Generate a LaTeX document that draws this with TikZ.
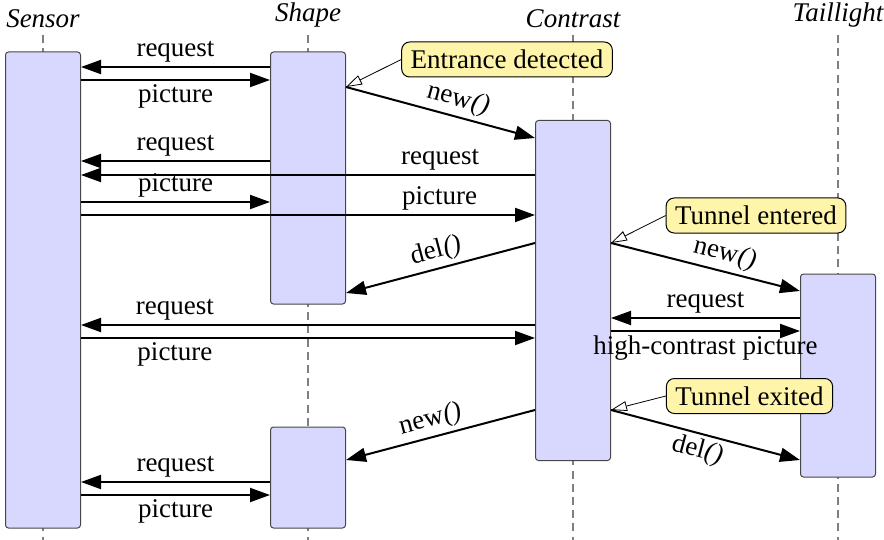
\documentclass[tikz,border=0pt]{standalone}
\usepackage{fontspec}
\setmainfont{Liberation Serif}
\newfontfamily\lserif{Liberation Serif}
\usetikzlibrary{arrows.meta,calc}
\definecolor{actfill}{RGB}{216,216,255}
\definecolor{actdraw}{RGB}{70,70,70}
\definecolor{notefill}{RGB}{255,245,170}
\definecolor{lifegray}{RGB}{128,128,128}
\begin{document}
\begin{tikzpicture}[x=0.5pt,y=-0.5pt,
  every node/.style={font=\lserif\fontsize{13.5pt}{16pt}\selectfont},
  threadname/.style={font=\lserif\fontsize{13.5pt}{16pt}\selectfont\itshape, anchor=south, inner sep=0pt},
  lifeline/.style={draw=lifegray, line width=0.7pt, dash pattern=on 4pt off 2.6pt},
  actbox/.style={draw=actdraw, fill=actfill, line width=0.5pt, rounded corners=1.5pt,
                 minimum width=37.5pt, inner sep=0pt},
  msg/.style={line width=1pt, -{Triangle[length=10pt,width=7pt]}},
  lbl/.style={inner sep=2pt},
  note/.style={draw=black, fill=notefill, line width=0.5pt, rounded corners=4pt,
               inner xsep=4.5pt, inner ysep=0pt, minimum height=17.5pt},
  pointer/.style={line width=0.4pt, -{Triangle[open,length=8pt,width=5pt,fill=white]}}
]
\useasboundingbox (0,0) rectangle (884,540);

% thread names
\node[threadname] (nSensor) at (43,28) {Sensor};
\node[threadname] (nShape) at (308,28) {Shape};
\node[threadname] (nContrast) at (573,28) {Contrast};
\node[threadname] (nTail) at (838,28) {Taillight};

% lifelines
\draw[lifeline] (nSensor.south |- 0,35) -- (nSensor.south |- 0,540);
\draw[lifeline] (nShape.south |- 0,35) -- (nShape.south |- 0,540);
\draw[lifeline] (nContrast.south |- 0,35) -- (nContrast.south |- 0,540);
\draw[lifeline] (nTail.south |- 0,35) -- (nTail.south |- 0,540);

% activation boxes
\node[actbox, minimum height=238pt] (sensor) at (43,290) {};
\node[actbox, minimum height=126pt] (shapeA) at (308,178) {};
\node[actbox, minimum height=50.5pt] (shapeB) at (308,477.5) {};
\node[actbox, minimum height=170pt] (contrast) at (573,290.5) {};
\node[actbox, minimum height=101.5pt] (tail) at (838,375.5) {};

% notes
\node[note] (entr) at (507,59.5) {Entrance detected};
\node[note] (tent) at (756,215.5) {Tunnel entered};
\node[note] (texit) at (749.5,396) {Tunnel exited};

% first group
\draw[msg] (shapeA.west |- 0,67) -- node[lbl,above] {request} (sensor.east |- 0,67);
\draw[msg] (sensor.east |- 0,80) -- node[lbl,below] {picture} (shapeA.west |- 0,80);
\draw[msg] (shapeA.east |- 0,87) -- node[lbl,above,sloped,pos=0.57] {new\kern0.3pt\textit{()}} (contrast.west |- 0,138);
\draw[pointer] (entr.west) -- (shapeA.east |- 0,87);

% second group
\draw[msg] (shapeA.west |- 0,161) -- node[lbl,above] {request} (sensor.east |- 0,161);
\draw[msg] (contrast.west |- 0,175) -- node[lbl,above,pos=0.209] {request} (sensor.east |- 0,175);
\draw[msg] (sensor.east |- 0,202) -- node[lbl,above] {picture} (shapeA.west |- 0,202);
\draw[msg] (sensor.east |- 0,215) -- node[lbl,above,pos=0.79] {picture} (contrast.west |- 0,215);
\draw[msg] (contrast.west |- 0,243) -- node[lbl,above,sloped,pos=0.5] {del\kern0.3pt\textit{()}} (shapeA.east |- 0,293);

% taillight creation
\draw[pointer] (tent.west) -- (contrast.east |- 0,243);
\draw[msg] (contrast.east |- 0,243) -- node[lbl,above,sloped,pos=0.58] {new\kern0.3pt\textit{()}} (tail.west |- 0,291);

% third group
\draw[msg] (tail.west |- 0,318) -- node[lbl,above] {request} (contrast.east |- 0,318);
\draw[msg] (contrast.east |- 0,331) -- node[lbl,below] {high-contrast picture} (tail.west |- 0,331);
\draw[msg] (contrast.west |- 0,325) -- node[lbl,above,pos=0.793] {request} (sensor.east |- 0,325);
\draw[msg] (sensor.east |- 0,338) -- node[lbl,below,pos=0.207] {picture} (contrast.west |- 0,338);

% tunnel exit
\draw[pointer] (texit.west) -- (contrast.east |- 0,410);
\draw[msg] (contrast.west |- 0,410) -- node[lbl,above,sloped,pos=0.53] {new\kern0.3pt\textit{()}} (shapeB.east |- 0,460);
\draw[msg] (contrast.east |- 0,410) -- node[lbl,below,sloped,pos=0.48] {del\kern0.3pt\textit{()}} (tail.west |- 0,460);

% last group
\draw[msg] (shapeB.west |- 0,482) -- node[lbl,above] {request} (sensor.east |- 0,482);
\draw[msg] (sensor.east |- 0,495) -- node[lbl,below] {picture} (shapeB.west |- 0,495);
\end{tikzpicture}
\end{document}
